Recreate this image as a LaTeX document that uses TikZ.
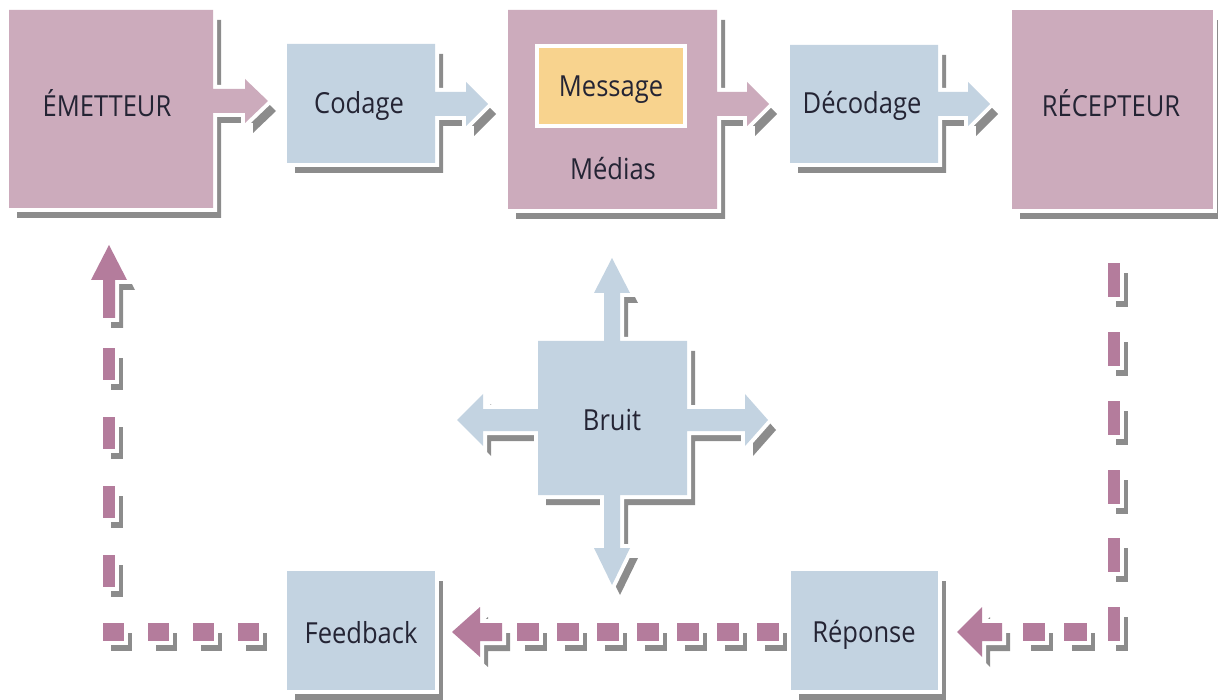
\documentclass[tikz,border=0pt]{standalone}
\usepackage{fontspec}
\setmainfont{Open Sans}[FakeStretch=0.88]

\definecolor{boxpink}{RGB}{204,171,188}
\definecolor{dashpink}{RGB}{180,124,156}
\definecolor{boxblue}{RGB}{195,211,225}
\definecolor{msgyellow}{RGB}{248,211,142}
\definecolor{shadowgray}{RGB}{140,140,140}
\definecolor{inkcol}{RGB}{36,36,52}

% a flat shape with a white rim and a gray drop shadow
\newcommand\solidshape[2]{%
  \fill[shadowgray, shift={(8,10)}] #2;
  \filldraw[white, line width=8pt, line join=miter] #2;
  \fill[#1] #2;
}
\newcommand\dashrect[5]{%
  \solidshape{#1}{(#2,#3) -- (#4,#3) -- (#4,#5) -- (#2,#5) -- cycle}%
}

\tikzset{
  label/.style={text=inkcol, font=\fontsize{29}{34}\selectfont, inner sep=0pt, anchor=base},
}

\begin{document}
\begin{tikzpicture}[x=1pt, y=-1pt]
\useasboundingbox (0,0) rectangle (1218,700);

% ---------- top row: boxes with their outgoing arrows ----------
\solidshape{boxpink}{(9,10) -- (213,10) -- (213,89) -- (245,89) -- (245,79) -- (268,101) -- (245,123) -- (245,113) -- (213,113) -- (213,208) -- (9,208) -- cycle}
\solidshape{boxblue}{(287,44) -- (435,44) -- (435,92) -- (466,92) -- (466,82) -- (488,104) -- (466,126) -- (466,116) -- (435,116) -- (435,163) -- (287,163) -- cycle}
\solidshape{boxpink}{(508,10) -- (717,10) -- (717,92) -- (747,92) -- (747,82) -- (769,104) -- (747,126) -- (747,116) -- (717,116) -- (717,209) -- (508,209) -- cycle}
\filldraw[fill=msgyellow, draw=white, line width=4pt] (537,46) rectangle (685,126);
\solidshape{boxblue}{(790,45) -- (938,45) -- (938,92) -- (968,92) -- (968,82) -- (990,104) -- (968,126) -- (968,116) -- (938,116) -- (938,163) -- (790,163) -- cycle}
\solidshape{boxpink}{(1012,10) -- (1213,10) -- (1213,209) -- (1012,209) -- cycle}

% ---------- noise: box radiating four arrows ----------
\solidshape{boxblue}{(538,341) -- (604,341) -- (604,293) -- (594,293) -- (612,258) -- (630,293) -- (620,293) -- (620,341) -- (687,341) -- (687,409) -- (745,409) -- (745,394) -- (768,420) -- (745,446) -- (745,431) -- (687,431) -- (687,495) -- (620,495) -- (620,548) -- (630,548) -- (612,585) -- (594,548) -- (604,548) -- (604,495) -- (538,495) -- (538,431) -- (483,431) -- (483,446) -- (457,420) -- (483,394) -- (483,409) -- (538,409) -- cycle}

% ---------- bottom row ----------
\solidshape{boxblue}{(287,571) -- (435,571) -- (435,690) -- (287,690) -- cycle}
\solidshape{boxblue}{(791,571) -- (938,571) -- (938,690) -- (791,690) -- cycle}

% return path: dashes from the receiver down and back to the sender
\foreach \y in {263,332,401,470,538,607}
  \dashrect{dashpink}{1108}{\y}{1120}{\y+34};
\dashrect{dashpink}{1064}{623}{1087}{641}
\dashrect{dashpink}{1023}{623}{1045}{641}
\solidshape{dashpink}{(1002,623) -- (982,623) -- (982,607) -- (957,632) -- (982,657) -- (982,641) -- (1002,641) -- cycle}

\foreach \k in {0,...,6}
  \dashrect{dashpink}{517+40*\k}{623}{539+40*\k}{641};
\solidshape{dashpink}{(502,623) -- (480,623) -- (480,607) -- (452,632) -- (480,657) -- (480,641) -- (502,641) -- cycle}

\foreach \x in {103,148,193,238}
  \dashrect{dashpink}{\x}{623}{\x+21}{641};
\foreach \y in {555,486,417,348}
  \dashrect{dashpink}{103}{\y}{115}{\y+32};
\solidshape{dashpink}{(103,318) -- (103,280) -- (91,280) -- (109,245) -- (127,280) -- (115,280) -- (115,318) -- cycle}

% ---------- labels ----------
\node[label] (emetteur) at (107,117) {ÉMETTEUR};
\node[label] (codage)   at (359,114) {Codage};
\node[label] (message)  at (611,97)  {Message};
\node[label] (medias)   at (613,180) {Médias};
\node[label] (decodage) at (862,114) {Décodage};
\node[label] (recept)   at (1111,117) {RÉCEPTEUR};
\node[label] (bruit)    at (612,430) {Bruit};
\node[label] (feedback) at (361,643) {Feedback};
\node[label] (reponse)  at (864,642) {Réponse};
\end{tikzpicture}
\end{document}
